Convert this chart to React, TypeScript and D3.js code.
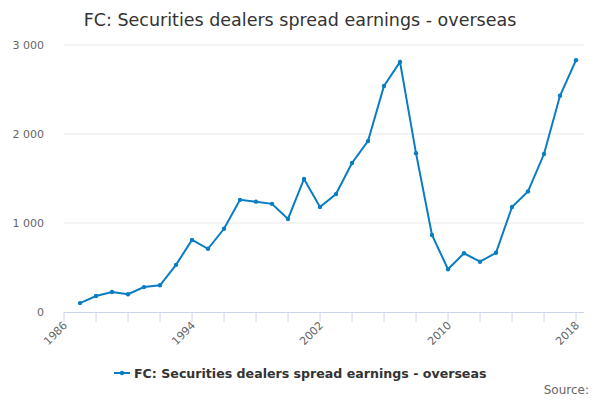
import React from "react";
import * as d3 from "d3";

const years = [1987,1988,1989,1990,1991,1992,1993,1994,1995,1996,1997,1998,1999,2000,2001,2002,2003,2004,2005,2006,2007,2008,2009,2010,2011,2012,2013,2014,2015,2016,2017,2018];
const values = [100,180,225,200,280,300,530,810,710,935,1260,1240,1215,1045,1495,1180,1325,1675,1920,2540,2810,1785,865,480,660,565,665,1180,1355,1775,2430,2830];
const yTicks = [0,1000,2000,3000];
const xLabels = [1986,1994,2002,2010,2018];
const title = "FC: Securities dealers spread earnings - overseas";

export default function App() {
  const W = 600, H = 400;
  const x = d3.scaleLinear().domain([1986, 2018]).range([64, 576]);
  const y = d3.scaleLinear().domain([0, 3000]).range([312, 45]);
  const line = d3.line<number>().x((_, i) => x(years[i])).y(d => y(d));
  const minor = d3.range(1986, 2019, 2);
  const font = "'DejaVu Sans', sans-serif";
  return (
    <svg width={W} height={H} style={{ position: "absolute", left: 0, top: 0 }} fontFamily={font}>
      <rect width={W} height={H} fill="#fff" />
      <text x={300} y={26} textAnchor="middle" fontSize={17.5} fill="#333">{title}</text>
      {yTicks.map(t => (
        <g key={t}>
          {t > 0 && <line x1={64} x2={584} y1={y(t)} y2={y(t)} stroke="#e6e6e6" />}
          <text x={44} y={y(t) + 4} textAnchor="end" fontSize={11} fill="#666">{t === 0 ? "0" : d3.format(",")(t).replace(",", " ")}</text>
        </g>
      ))}
      <line x1={64} x2={584} y1={312.5} y2={312.5} stroke="#ccd6eb" />
      {minor.map(t => (
        <line key={t} x1={x(t)} x2={x(t)} y1={312} y2={322} stroke="#ccd6eb" />
      ))}
      {xLabels.map(t => (
        <text key={t} transform={`translate(${x(t) + 4},${326}) rotate(-45)`} textAnchor="end" fontSize={11} fill="#666">{t}</text>
      ))}
      <path d={line(values) || ""} fill="none" stroke="#0a7dc2" strokeWidth={2} />
      {values.map((v, i) => (
        <circle key={i} cx={x(years[i])} cy={y(v)} r={2.2} fill="#0a7dc2" />
      ))}
      <g transform="translate(114,373)">
        <line x1={0} x2={16} y1={0} y2={0} stroke="#0a7dc2" strokeWidth={2} />
        <circle cx={8} cy={0} r={2.2} fill="#0a7dc2" />
        <text x={20} y={5} fontSize={12.6} fontWeight="bold" fill="#333">{title}</text>
      </g>
      <text x={589} y={394} textAnchor="end" fontSize={12} fill="#666">Source:</text>
    </svg>
  );
}
